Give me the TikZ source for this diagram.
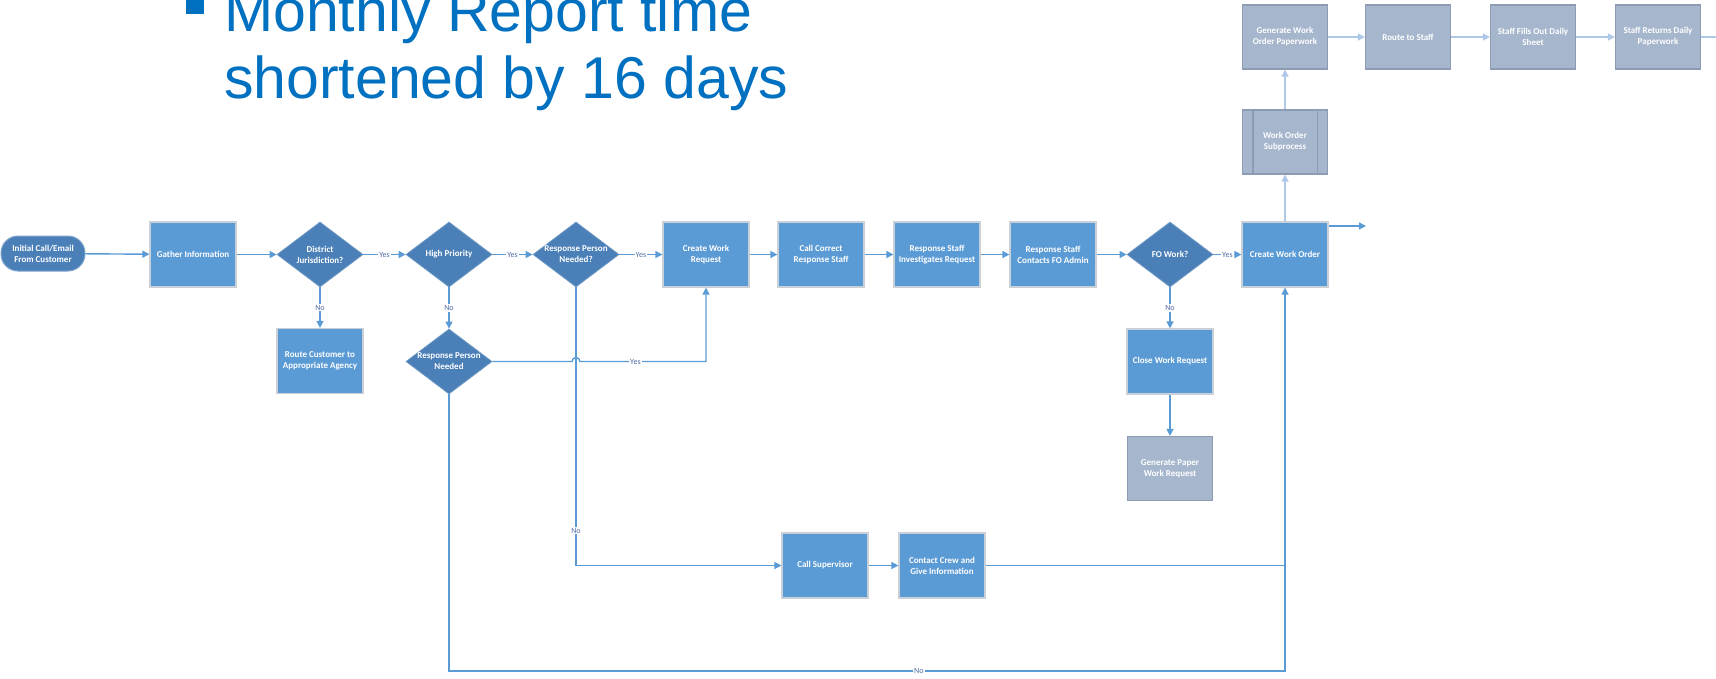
\documentclass[tikz,border=0pt]{standalone}
\usepackage{fontspec}
\setmainfont{Liberation Sans}
\newfontfamily\calfont{Carlito}
\usetikzlibrary{shapes.geometric,arrows.meta,calc}
\definecolor{procblue}{HTML}{5B9BD5}
\definecolor{decblue}{HTML}{4A7FB7}
\definecolor{boxedge}{HTML}{C9D0D8}
\definecolor{grayfill}{HTML}{A6B6CD}
\definecolor{grayedge}{HTML}{8D9CB2}
\definecolor{connblue}{HTML}{5B9BD5}
\definecolor{lightconn}{HTML}{AEC8E7}
\definecolor{lblcol}{HTML}{4F6AA6}
\definecolor{titleblue}{HTML}{0070C0}
\newcommand{\nodefont}{\calfont\bfseries\fontsize{9}{11}\selectfont}
\tikzset{
  proc/.style={draw=boxedge, line width=1.2pt, fill=procblue, minimum width=86pt, minimum height=65pt, inner sep=1pt, align=center, text=white, font=\nodefont},
  gbox/.style={draw=grayedge, line width=1.2pt, fill=grayfill, minimum width=85pt, minimum height=64pt, inner sep=1pt, align=center, text=white, font=\nodefont},
  dec/.style={diamond, fill=decblue, draw=decblue!80!white, line width=0.8pt, minimum width=86pt, minimum height=65pt, inner sep=0pt},
  dtext/.style={text=white, font=\nodefont, align=center},
  term/.style={rectangle, rounded corners=17pt, fill=decblue, draw=decblue!70!white, line width=1pt, minimum width=84pt, minimum height=35pt, inner sep=1pt, align=center, text=white, font=\nodefont},
  conn/.style={draw=connblue, line width=1.4pt},
  arr/.style={-{Triangle[length=7pt,width=7pt]}},
  lconn/.style={draw=lightconn, line width=1.4pt},
  lbl/.style={fill=white, inner sep=1pt, text=lblcol, font=\calfont\fontsize{8}{9}\selectfont},
  titletext/.style={text=titleblue, font=\fontsize{59}{67}\selectfont, inner sep=0pt, anchor=base west}
}
\begin{document}
\begin{tikzpicture}[x=1pt,y=1pt]
\useasboundingbox (0,0) rectangle (1716,-678);
% title
\fill[titleblue] (186,4) rectangle (204,-14);
\node[titletext] (t1) at (224,-31) {Monthly Report time};
\node[titletext] (t2) at (224,-98) {shortened by 16 days};
% main row
\node[term] (init) at (43,-253.5) {Initial Call/Email\\From Customer};
\node[proc] (gather) at (193,-254.5) {Gather Information};
\node[dec, label={[dtext]center:{District\\Jurisdiction?}}] (dj) at (320,-254.5) {};
\node[dec, label={[dtext]center:{High Priority}}] (hp) at (449,-254.5) {};
\node[dec, label={[dtext]center:{Response Person\\Needed?}}] (rpn) at (576,-254.5) {};
\node[proc] (cwr) at (706,-254.5) {Create Work\\Request};
\node[proc] (ccrs) at (821,-254.5) {Call Correct\\Response Staff};
\node[proc] (rsir) at (937,-254.5) {Response Staff\\Investigates Request};
\node[proc] (rscfa) at (1053,-254.5) {Response Staff\\Contacts FO Admin};
\node[dec, label={[dtext]center:{FO Work?}}] (fo) at (1170,-254.5) {};
\node[proc] (cwo) at (1285,-254.5) {Create Work Order};
% second row
\node[proc] (rcaa) at (320,-361) {Route Customer to\\Appropriate Agency};
\node[dec, label={[dtext]center:{Response Person\\Needed}}] (rpn2) at (449,-361.5) {};
\node[proc] (cwreq) at (1170,-361.5) {Close Work Request};
\node[gbox] (gpwr) at (1170,-468.5) {Generate Paper\\Work Request};
\node[proc] (cs) at (825,-565.5) {Call Supervisor};
\node[proc] (ccgi) at (942,-565.5) {Contact Crew and\\Give Information};
% top gray row
\node[gbox] (wos) at (1285,-142) {Work Order\\Subprocess};
\draw[grayedge, line width=1.2pt] ($(wos.north west)+(11,0)$) -- ($(wos.south west)+(11,0)$);
\draw[grayedge, line width=1.2pt] ($(wos.north east)+(-11,0)$) -- ($(wos.south east)+(-11,0)$);
\node[gbox] (gwop) at (1285,-37) {Generate Work\\Order Paperwork};
\node[gbox] (rts) at (1408,-37) {Route to Staff};
\node[gbox] (sfods) at (1533,-37) {Staff Fills Out Daily\\Sheet};
\node[gbox] (srdp) at (1658,-37) {Staff Returns Daily\\Paperwork};
\coordinate (outr) at (1716,-37);
\coordinate (outcwo) at (1366,-226);
\coordinate (bottomleft) at (449,-671);
% connectors
\draw[conn,arr] (init) -- (gather);
\draw[conn,arr] (gather) -- (dj);
\draw[conn,arr] (dj) -- node[lbl]{Yes} (hp);
\draw[conn,arr] (hp) -- node[lbl]{Yes} (rpn);
\draw[conn,arr] (rpn) -- node[lbl]{Yes} (cwr);
\draw[conn,arr] (cwr) -- (ccrs);
\draw[conn,arr] (ccrs) -- (rsir);
\draw[conn,arr] (rsir) -- (rscfa);
\draw[conn,arr] (rscfa) -- (fo);
\draw[conn,arr] (fo) -- node[lbl]{Yes} (cwo);
\draw[conn,arr] (cwo.north east |- outcwo) -- (outcwo);
\draw[conn,arr] (dj) -- node[lbl]{No} (rcaa);
\draw[conn,arr] (hp) -- node[lbl]{No} (rpn2);
\draw[conn,arr] (fo) -- node[lbl]{No} (cwreq);
\draw[conn,arr] (cwreq) -- (gpwr);
\draw[conn,arr] (rpn2.east) -- ($(rpn2.east -| rpn.south)+(-4,0)$) arc[start angle=180,end angle=0,radius=4] -| node[lbl,pos=0.22]{Yes} (cwr.south);
\draw[conn,arr] (rpn.south) |- node[lbl,pos=0.437]{No} (cs.west);
\draw[conn,arr] (cs) -- (ccgi);
\draw[conn] (ccgi.east) -- (ccgi.east -| cwo.south);
\draw[conn,arr] (rpn2.south) -- (bottomleft) -| node[lbl,pos=0.281]{No} (cwo.south);
\draw[lconn,arr] (cwo) -- (wos);
\draw[lconn,arr] (wos) -- (gwop);
\draw[lconn,arr] (gwop) -- (rts);
\draw[lconn,arr] (rts) -- (sfods);
\draw[lconn,arr] (sfods) -- (srdp);
\draw[lconn] (srdp) -- (outr);
\end{tikzpicture}
\end{document}
